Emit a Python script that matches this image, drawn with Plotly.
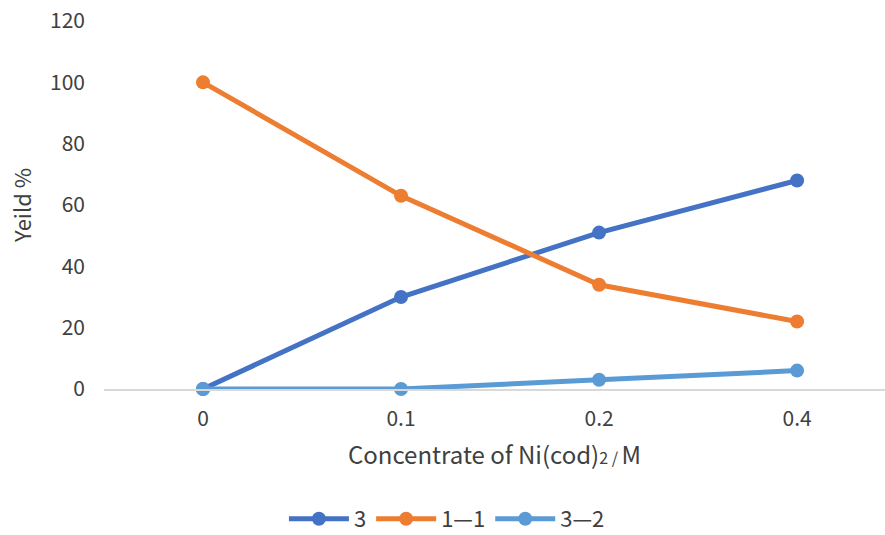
import plotly.graph_objects as go

categories = ["0", "0.1", "0.2", "0.4"]
series_3 = [0, 30, 51, 68]
series_1_1 = [100, 63, 34, 22]
series_3_2 = [0, 0, 3, 6]
y_ticks = [0, 20, 40, 60, 80, 100, 120]

FONT = "Noto Sans CJK SC"
x = list(range(len(categories)))

fig = go.Figure()
for name, vals, color in [("3", series_3, "#4472C4"),
                          ("1—1", series_1_1, "#ED7D31"),
                          ("3—2", series_3_2, "#5B9BD5")]:
    fig.add_trace(go.Scatter(x=x, y=vals, name=name, mode="lines+markers",
                             line=dict(color=color, width=5),
                             marker=dict(color=color, size=14),
                             cliponaxis=False))

fig.update_layout(
    width=885, height=535,
    margin=dict(l=104, r=0, t=21, b=146),
    paper_bgcolor="white", plot_bgcolor="white",
    font=dict(family=FONT, size=21, color="#404040"),
    showlegend=True,
    legend=dict(orientation="h", xref="container", yref="container",
                x=0.505, xanchor="center", y=0.03, yanchor="middle",
                font=dict(size=22, color="#404040"), itemwidth=60),
    xaxis=dict(range=[-0.5, 3.444], tickmode="array", tickvals=x, ticktext=categories,
               showgrid=False, zeroline=False, showline=True, linecolor="#D9D9D9",
               linewidth=1.5, ticks="", ticklabelstandoff=10,
               title=dict(text="Concentrate of Ni(cod)<span style='font-size:16px'>2 / </span>M",
                          font=dict(size=24, color="#404040"), standoff=16)),
    yaxis=dict(range=[0, 120], tickvals=y_ticks, showgrid=False, zeroline=False,
               showline=False, ticks="", ticklabelstandoff=18,
               title=dict(text="Yeild %", font=dict(size=22, color="#404040"), standoff=12)),
)

fig.write_html("out.html")
